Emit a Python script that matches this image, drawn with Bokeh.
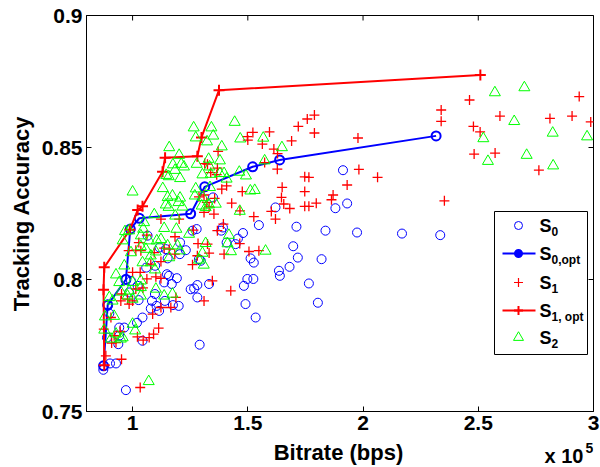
from math import pi
from bokeh.plotting import figure
from bokeh.models import Range1d, FixedTicker
from bokeh.layouts import column
from bokeh.core.properties import value
from bokeh.embed import file_html
from bokeh.resources import INLINE

# Bitrate in units of 1e5 bps, tracking accuracy
s0_x = [0.873, 0.902, 0.928, 0.971, 0.938, 0.889, 0.942, 0.964, 0.942, 1.019, 1.043, 1.043,
        0.899, 0.892, 1.026, 1.079, 1.115, 1.104, 1.140, 1.175, 1.200, 1.084, 1.097, 0.993,
        0.971, 0.985, 1.022, 1.098, 1.059, 1.065, 1.117, 1.144, 1.152, 1.206, 1.231, 1.205,
        1.158, 1.137, 1.170, 1.192, 1.149, 1.260, 1.278, 1.385, 1.392, 1.408, 1.447, 1.457,
        1.479, 1.548, 1.288, 1.296, 1.281, 1.267, 1.252, 1.281, 1.332, 1.291, 1.512, 1.526,
        1.498, 1.524, 1.483, 1.490, 1.534, 1.635, 1.639, 1.681, 1.697, 1.711, 1.717, 1.765,
        1.804, 1.820, 1.837, 1.974, 2.169, 2.335, 1.913, 1.931, 1.880, 1.620, 1.349]
s0_y = [0.7658, 0.7682, 0.7682, 0.7581, 0.7755, 0.7780, 0.7818, 0.7818, 0.7787, 0.7836, 0.7768, 0.7856,
        0.7871, 0.7900, 0.7922, 0.7890, 0.7881, 0.7900, 0.7919, 0.7903, 0.7900, 0.7919, 0.7945, 0.7995,
        0.8002, 0.7951, 0.7976, 0.8052, 0.8045, 0.8166, 0.8121, 0.8115, 0.8080, 0.8140, 0.8111, 0.8096,
        0.8014, 0.7989, 0.7983, 0.8005, 0.8020, 0.8185, 0.8191, 0.8185, 0.8197, 0.8140, 0.8134, 0.8155,
        0.8176, 0.8206, 0.8077, 0.8071, 0.7979, 0.7966, 0.7963, 0.7932, 0.7983, 0.7753, 0.8080, 0.8064,
        0.8002, 0.8002, 0.7976, 0.7907, 0.7856, 0.8033, 0.8014, 0.8048, 0.8126, 0.8200, 0.8083, 0.7985,
        0.7912, 0.8077, 0.8185, 0.8178, 0.8174, 0.8168, 0.8414, 0.8288, 0.8270, 0.8273, 0.8311]

s0_opt_x = [0.874, 0.892, 0.971, 0.990, 1.029, 1.252, 1.313, 1.521, 1.638, 2.317]
s0_opt_y = [0.7673, 0.7904, 0.8000, 0.8191, 0.8232, 0.8249, 0.8351, 0.8427, 0.8453, 0.8544]

s1_x = [1.758, 1.789, 1.719, 1.789, 1.978, 1.594, 1.522, 1.498, 1.500, 1.563, 1.613, 1.690,
        1.629, 1.628, 1.573, 1.747, 1.765, 1.649, 1.747, 1.646, 1.870, 1.863, 1.797, 1.747,
        1.765, 1.682, 1.602, 1.476, 1.430, 1.526, 1.931, 1.982, 1.313, 1.325, 1.368, 1.365,
        1.387, 1.408, 1.310, 1.356, 1.310, 1.353, 1.202, 1.123, 2.339, 2.339, 2.063, 2.353,
        2.462, 2.594, 2.479, 2.508, 2.482, 2.573, 2.763, 2.811, 2.907, 2.938, 2.988, 1.371,
        1.339, 1.656, 1.466, 1.288, 1.322, 1.332, 1.620, 1.062, 1.027, 0.983, 1.014, 1.036,
        1.094, 1.137, 1.159, 1.184, 1.264, 1.368, 1.394, 1.465, 1.505, 1.548, 1.325, 1.284,
        1.332, 1.281, 1.397, 1.260, 1.183, 1.123, 1.079, 1.033, 1.000, 1.062, 1.014, 1.045,
        1.101, 1.123, 1.000, 0.952, 0.949, 0.978, 0.985, 0.906, 0.920, 0.946, 0.909, 0.928,
        0.952, 1.021, 1.046, 1.072, 1.091, 1.113, 1.033, 0.884, 0.875, 1.346, 1.310, 1.426,
        1.087, 1.123, 1.166, 1.188]
s1_y = [0.8608, 0.8623, 0.8580, 0.8555, 0.8536, 0.8559, 0.8557, 0.8541, 0.8528, 0.8513, 0.8494, 0.8525,
        0.8477, 0.8418, 0.8443, 0.8389, 0.8387, 0.8349, 0.8333, 0.8311, 0.8320, 0.8302, 0.8289, 0.8277,
        0.8277, 0.8269, 0.8258, 0.8333, 0.8289, 0.8238, 0.8358, 0.8417, 0.8439, 0.8437, 0.8422, 0.8397,
        0.8342, 0.8355, 0.8320, 0.8307, 0.8254, 0.8248, 0.8229, 0.8229, 0.8642, 0.8599, 0.8387, 0.8298,
        0.8680, 0.8619, 0.8580, 0.8559, 0.8475, 0.8479, 0.8414, 0.8610, 0.8619, 0.8693, 0.8597, 0.8485,
        0.8405, 0.8286, 0.8260, 0.8313, 0.8292, 0.8275, 0.8229, 0.8168, 0.8140, 0.8109, 0.8111, 0.8109,
        0.8102, 0.8119, 0.8115, 0.8162, 0.8187, 0.8185, 0.8210, 0.8136, 0.8106, 0.8109, 0.8134, 0.8136,
        0.8100, 0.8090, 0.8096, 0.8056, 0.8096, 0.8068, 0.8058, 0.8027, 0.8027, 0.8002, 0.7964, 0.7968,
        0.8010, 0.8004, 0.7919, 0.7945, 0.7919, 0.7926, 0.7907, 0.7856, 0.7787, 0.7803, 0.7759, 0.7761,
        0.7698, 0.7783, 0.7770, 0.7780, 0.7793, 0.7816, 0.7591, 0.7711, 0.7812, 0.7995, 0.7919, 0.7957,
        0.7869, 0.7894, 0.7894, 0.7932]

s1_opt_x = [0.877, 0.874, 0.877, 0.988, 1.022, 1.043, 1.130, 1.141, 1.281, 1.299, 1.375, 2.509]
s1_opt_y = [0.7675, 0.7961, 0.8046, 0.8188, 0.8263, 0.8277, 0.8408, 0.8461, 0.8467, 0.8538, 0.8717, 0.8775]

s2_x = [1.265, 1.274, 1.159, 1.202, 1.175, 1.211, 1.223, 1.184, 1.146, 1.157, 1.206, 1.000,
        1.131, 1.274, 1.173, 1.152, 1.206, 1.144, 1.156, 1.216, 1.094, 1.185, 1.342, 1.443,
        1.350, 1.323, 1.387, 1.467, 1.567, 1.648, 1.278, 1.330, 1.379, 1.334, 1.303, 1.339,
        1.379, 1.397, 1.408, 1.463, 1.492, 1.573, 1.270, 1.305, 1.336, 1.511, 1.530, 1.199,
        1.300, 1.317, 1.465, 1.137, 1.046, 0.985, 1.123, 1.105, 1.152, 1.190, 1.195, 1.036,
        0.993, 1.058, 1.079, 1.101, 1.159, 1.043, 1.079, 1.097, 0.964, 0.928, 0.942, 1.000,
        1.036, 0.985, 1.036, 1.101, 1.173, 1.137, 0.899, 0.913, 0.949, 0.978, 1.000, 1.036,
        0.880, 0.920, 1.332, 1.361, 1.050, 0.967, 0.957, 1.036, 1.072, 1.245, 1.317, 1.412,
        1.427, 1.577, 1.303, 1.288, 1.309, 1.205, 0.957, 1.070, 1.418, 0.877, 0.928, 0.949,
        0.906, 1.011, 1.000, 2.572, 2.700, 2.656, 2.522, 2.823, 2.972, 2.710, 2.542, 2.825]
s2_y = [0.8575, 0.8537, 0.8500, 0.8471, 0.8435, 0.8437, 0.8427, 0.8414, 0.8395, 0.8390, 0.8383, 0.8332,
        0.8345, 0.8344, 0.8317, 0.8311, 0.8309, 0.8283, 0.8274, 0.8275, 0.8246, 0.8241, 0.8575, 0.8596,
        0.8544, 0.8522, 0.8503, 0.8533, 0.8536, 0.8500, 0.8437, 0.8456, 0.8450, 0.8427, 0.8397, 0.8399,
        0.8402, 0.8402, 0.8381, 0.8407, 0.8393, 0.8450, 0.8317, 0.8311, 0.8349, 0.8336, 0.8338, 0.8292,
        0.8279, 0.8273, 0.8259, 0.8194, 0.8191, 0.8185, 0.8152, 0.8147, 0.8128, 0.8191, 0.8128, 0.8125,
        0.8102, 0.8115, 0.8090, 0.8105, 0.8083, 0.8064, 0.8064, 0.8037, 0.8052, 0.8018, 0.7989, 0.7989,
        0.7995, 0.7957, 0.7970, 0.7964, 0.7945, 0.7938, 0.7932, 0.7919, 0.7953, 0.7938, 0.7926, 0.7938,
        0.7859, 0.7861, 0.8283, 0.8286, 0.8216, 0.8182, 0.8147, 0.8166, 0.8147, 0.8172, 0.8137, 0.8136,
        0.8106, 0.8108, 0.8100, 0.8074, 0.8055, 0.8109, 0.7780, 0.7614, 0.8168, 0.7809, 0.7794, 0.7775,
        0.7775, 0.7806, 0.7831, 0.8708, 0.8727, 0.8599, 0.8534, 0.8555, 0.8541, 0.8471, 0.8448, 0.8431]

x_ticks = [1, 1.5, 2, 2.5, 3]
x_tick_labels = ["1", "1.5", "2", "2.5", "3"]
y_ticks = [0.75, 0.8, 0.85, 0.9]
y_tick_labels = ["0.75", "0.8", "0.85", "0.9"]

legend_main = ["S", "S", "S", "S", "S"]
legend_sub = ["0", "0,opt", "1", "1, opt", "2"]

BLUE, RED, GREEN = "#0000ff", "#ff0000", "#00ff00"
FONT = "Liberation Sans"

# the page is drawn from its top-left corner (Bokeh's page template has no body margin)
W, H = 600, 467
FL, FR, FT, FB = 86, 7, 15, 30
FH = 396
FW = W - FL - FR
H1 = FT + FH + FB          # main figure height
HF = H - H1                # footer strip height
X0, X1, Y0, Y1 = 0.8, 3.0, 0.75, 0.9

p = figure(width=W, height=H1, x_range=Range1d(X0, X1), y_range=Range1d(Y0, Y1),
           output_backend="svg", toolbar_location=None,
           min_border_left=FL, min_border_right=FR, min_border_top=FT, min_border_bottom=FB)
p.grid.visible = False
p.outline_line_color = "black"
p.outline_line_width = 1
p.background_fill_color = "white"
p.border_fill_color = "white"


def dx(page_x):
    return X0 + (page_x - FL) * (X1 - X0) / FW


def dy(page_y):
    return Y1 - (page_y - FT) * (Y1 - Y0) / FH


for ax in (p.xaxis[0], p.yaxis[0]):
    ax.major_tick_in = 5
    ax.major_tick_out = 0
    ax.minor_tick_line_color = None
    ax.axis_line_color = "black"
    ax.axis_line_width = 1
    ax.major_tick_line_color = "black"
    ax.major_label_text_font = FONT
    ax.major_label_text_font_style = "bold"
    ax.major_label_text_color = "black"
    ax.major_label_text_font_size = "21px"

xa = p.xaxis[0]
ya = p.yaxis[0]
xa.ticker = FixedTicker(ticks=x_ticks)
xa.major_label_overrides = dict(zip(x_ticks, x_tick_labels))
xa.major_label_standoff = 4
ya.ticker = FixedTicker(ticks=y_ticks)
ya.major_label_overrides = dict(zip(y_ticks, y_tick_labels))
ya.major_label_standoff = 4
ya.axis_label = "Tracking Accuracy"
ya.axis_label_text_font = FONT
ya.axis_label_text_font_style = "bold"
ya.axis_label_text_font_size = "22px"
ya.axis_label_text_color = "black"
ya.axis_label_standoff = 5

# inward ticks on the top and right edges of the box
p.scatter(x_ticks, [Y1] * len(x_ticks), marker="dash", angle=pi / 2, size=10,
          line_color="black", line_width=1)
p.scatter([X1] * len(y_ticks), y_ticks, marker="dash", size=10, line_color="black", line_width=1)

# data
p.scatter(s0_x, s0_y, marker="circle", size=9, fill_color=None, line_color=BLUE, line_width=1)
p.line(s0_opt_x, s0_opt_y, line_color=BLUE, line_width=2)
p.scatter(s0_opt_x, s0_opt_y, marker="circle", size=9, fill_color=None, line_color=BLUE, line_width=2)
p.scatter(s1_x, s1_y, marker="cross", size=10, line_color=RED, line_width=1.3)
p.line(s1_opt_x, s1_opt_y, line_color=RED, line_width=2)
p.scatter(s1_opt_x, s1_opt_y, marker="cross", size=11, line_color=RED, line_width=2)
p.scatter(s2_x, s2_y, marker="triangle", size=11, fill_color=None, line_color=GREEN, line_width=1)

# legend
p.quad(left=dx(494), right=dx(587), top=dy(211), bottom=dy(354),
       fill_color="white", line_color="black", line_width=1)
rows = [225, 253, 282, 310, 337]
mx = dx(518)
p.scatter([mx], [dy(rows[0])], marker="circle", size=8, fill_color=None, line_color=BLUE, line_width=1)
p.line([dx(502), dx(535)], [dy(rows[1])] * 2, line_color=BLUE, line_width=2)
p.scatter([mx], [dy(rows[1])], marker="circle", size=7, fill_color=BLUE, line_color=BLUE, line_width=2)
p.scatter([mx], [dy(rows[2])], marker="cross", size=9, line_color=RED, line_width=1.2)
p.line([dx(502), dx(535)], [dy(rows[3])] * 2, line_color=RED, line_width=2)
p.scatter([mx], [dy(rows[3])], marker="cross", size=9, line_color=RED, line_width=2)
p.scatter([mx], [dy(rows[4])], marker="triangle", size=10, fill_color=None, line_color=GREEN, line_width=1)

p.text(x=[dx(539)] * 5, y=[dy(r) for r in rows], text=legend_main,
       text_font=value(FONT), text_font_style="bold", text_font_size="18px",
       text_baseline="middle", text_align="left", text_color="black")
p.text(x=[dx(551)] * 5, y=[dy(r + 6) for r in rows], text=legend_sub,
       text_font=value(FONT), text_font_style="bold", text_font_size="12px",
       text_baseline="middle", text_align="left", text_color="black")

# footer strip: x axis title and the x10^5 multiplier.
# Its frame is aligned with the main frame (page x FL .. W-FR) by the column layout.
f = figure(width=W, height=HF, x_range=Range1d(FL, W - FR), y_range=Range1d(0, HF),
           output_backend="svg", toolbar_location=None, min_border=0,
           x_axis_location=None, y_axis_location=None)
f.grid.visible = False
f.outline_line_color = None


def fy(page_y):
    return HF - (page_y - H1)


f.text(x=[338], y=[fy(452)], text=["Bitrate (bps)"], text_font=value(FONT),
       text_font_style="bold", text_font_size="22px", text_baseline="middle",
       text_align="center", text_color="black")
f.text(x=[544], y=[fy(455)], text=["x 10"], text_font=value(FONT),
       text_font_style="bold", text_font_size="20px", text_baseline="middle",
       text_align="left", text_color="black")
f.text(x=[585], y=[fy(447)], text=["5"], text_font=value(FONT),
       text_font_style="bold", text_font_size="14px", text_baseline="middle",
       text_align="left", text_color="black")

layout = column(p, f, spacing=0)
open("out.html", "w").write(file_html(layout, INLINE))
